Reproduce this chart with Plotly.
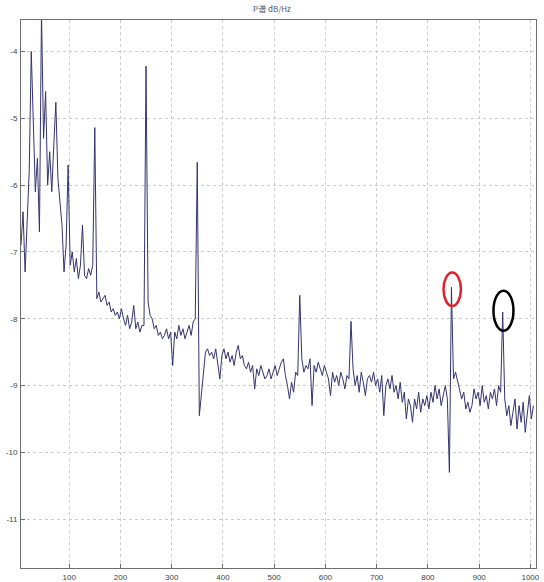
import plotly.graph_objects as go

# frequency grid (Hz) and log10 PSD values
freq = list(range(6, 1010, 4))
psd = [
    -6.9, -6.4, -7.3, -6.6, -5.8, -4.0, -5.2, -6.1, -5.6, -6.7,
    -3.4, -5.3, -4.6, -6.0, -5.5, -6.1, -5.4, -4.76, -5.9, -6.2,
    -6.6, -7.3, -6.9, -5.7, -7.2, -7.0, -7.3, -7.1, -7.4, -7.2,
    -6.6, -7.35, -7.4, -7.25, -7.35, -7.2, -5.14, -7.7, -7.6, -7.75,
    -7.7, -7.65, -7.8, -7.75, -7.9, -7.85, -7.95, -7.9, -8.0, -7.85,
    -8.0, -8.1, -7.95, -8.15, -8.05, -7.8, -8.15, -8.05, -8.2, -8.1,
    -8.1, -4.22, -7.75, -7.95, -8.0, -8.15, -8.1, -8.25, -8.2, -8.3,
    -8.25, -8.15, -8.3, -8.2, -8.7, -8.2, -8.3, -8.1, -8.25, -8.15,
    -8.3, -8.2, -8.1, -8.25, -8.05, -8.0, -5.66, -9.45, -9.1, -8.75,
    -8.5, -8.45, -8.55, -8.5, -8.6, -8.45, -8.65, -8.9, -8.55, -8.45,
    -8.6, -8.5, -8.65, -8.55, -8.7, -8.5, -8.4, -8.6, -8.55, -8.7,
    -8.75, -8.65, -8.8, -8.7, -9.05, -8.75, -8.85, -8.7, -8.8, -8.9,
    -8.85, -8.75, -8.9, -8.8, -8.7, -8.85, -8.75, -8.65, -8.6, -8.85,
    -9.0, -9.2, -8.95, -9.1, -8.8, -8.85, -7.65, -8.6, -8.8, -8.7,
    -8.75, -8.6, -9.3, -8.7, -8.8, -8.65, -8.75, -8.85, -8.7, -8.8,
    -8.9, -9.15, -8.8, -8.95, -8.85, -9.0, -8.8, -8.9, -9.05, -8.85,
    -8.9, -8.04, -8.75, -9.0, -8.85, -9.1, -8.8, -8.95, -9.15, -8.9,
    -8.85, -8.95, -8.8, -9.0, -8.9, -9.1, -8.85, -9.45, -9.0, -8.9,
    -9.05, -8.85, -9.1, -9.0, -9.2, -8.95, -9.25, -9.1, -9.5, -9.2,
    -9.3, -9.55, -9.2, -9.35, -9.1, -9.4, -9.2, -9.3, -9.15, -9.35,
    -9.1, -9.25, -9.0, -9.2, -9.05, -9.3, -9.15, -9.0, -9.2, -10.3,
    -7.53, -8.9, -8.8, -8.95, -9.05, -9.2, -9.1, -9.35, -9.25, -9.4,
    -9.3, -9.05, -9.2, -9.1, -9.3, -9.0, -9.25, -9.15, -9.35, -9.1,
    -9.2, -9.05, -9.3, -9.0, -9.1, -7.9, -9.2, -9.45, -9.3, -9.6,
    -9.4, -9.2, -9.65, -9.3, -9.55, -9.25, -9.7, -9.4, -9.15, -9.5, -9.3,
]

xticks = [100, 200, 300, 400, 500, 600, 700, 800, 900, 1000]
yticks = [-4, -5, -6, -7, -8, -9, -10, -11]
title_text = "P谱 dB/Hz"

# marked peaks (index into the series)
red_peak = 210
black_peak = 235

fig = go.Figure()
fig.add_trace(go.Scatter(
    x=freq, y=psd, mode="lines",
    line=dict(color="#34346e", width=1),
    hoverinfo="skip", showlegend=False,
))

def ellipse(cx, cy, rx, ry, color):
    fig.add_shape(type="circle", xref="x", yref="y",
                  x0=cx - rx, x1=cx + rx, y0=cy - ry, y1=cy + ry,
                  line=dict(color=color, width=2.5))

ellipse(freq[red_peak] + 1.5, psd[red_peak] - 0.03, 17, 0.25, "#e0202a")
ellipse(freq[black_peak] + 1.5, psd[black_peak] + 0.02, 19.5, 0.30, "#000000")

axis_common = dict(
    showline=True, mirror=True, linecolor="#6e6e6e", linewidth=1,
    ticks="inside", ticklen=4, tickcolor="#6e6e6e",
    showgrid=True, gridcolor="#cccccc", griddash="dot", gridwidth=1,
    zeroline=False, automargin=False,
    tickfont=dict(family="Liberation Sans Narrow, Liberation Sans, sans-serif", size=8, color="#444444"),
)

fig.update_layout(
    width=544, height=582,
    margin=dict(l=21, r=8, t=20, b=14),
    paper_bgcolor="white", plot_bgcolor="white",
    title=dict(text=title_text, x=0.5, xanchor="center", y=0.985, yanchor="middle",
               font=dict(family="Noto Sans CJK SC, sans-serif", size=8, color="#555555")),
    xaxis=dict(range=[6, 1011], tickvals=xticks, ticktext=[str(v) for v in xticks],
               ticklabelstandoff=1, **axis_common),
    yaxis=dict(range=[-11.73, -3.53], tickvals=yticks, ticktext=[str(v) for v in yticks],
               ticklabelstandoff=1, **axis_common),
)

fig.write_html("out.html", config={"displayModeBar": False},
               post_script="document.body.style.margin='0';document.body.style.overflow='hidden';")
